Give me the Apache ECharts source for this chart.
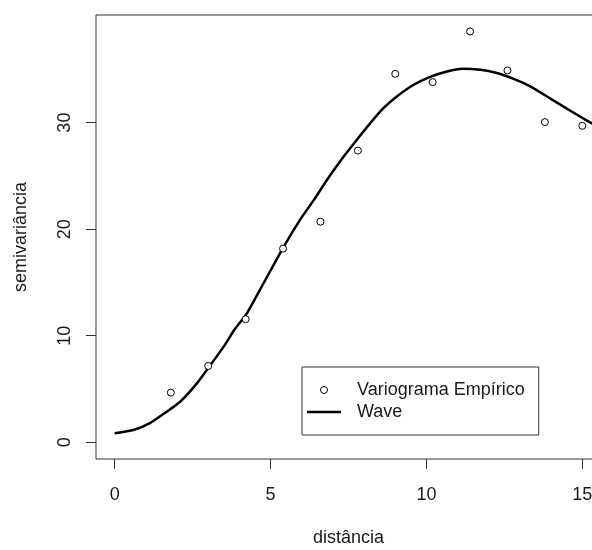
<!DOCTYPE html>
<html>
<head>
<meta charset="utf-8">
<title>Semivariograma</title>
<script src="https://cdn.jsdelivr.net/npm/echarts@6/dist/echarts.min.js"></script>
<style>
  html, body { margin: 0; padding: 0; background: #fff; }
  #chart { width: 592px; height: 550px; }
</style>
</head>
<body>
<div id="chart"></div>
<script>
// Empirical semivariogram (lag distance, semivariance)
const lagDist = [1.8, 3.0, 4.2, 5.4, 6.6, 7.8, 9.0, 10.2, 11.4, 12.6, 13.8, 15.0];
const semivar = [4.66, 7.16, 11.55, 18.17, 20.7, 27.38, 34.58, 33.8, 38.55, 34.9, 30.05, 29.7];

// Fitted wave model, sampled along distance
const waveDist = [0.0, 0.6, 1.13, 1.67, 2.1, 2.63, 3.06, 3.49, 3.85, 4.24, 4.77, 5.41, 5.95, 6.38,
  6.85, 7.34, 7.77, 8.2, 8.62, 9.05, 9.59, 10.12, 10.66, 11.15, 11.73, 12.26, 12.8, 13.33,
  13.87, 14.4, 14.94, 15.32];
const waveVal = [0.85, 1.15, 1.8, 2.87, 3.8, 5.5, 7.2, 8.95, 10.6, 12.1, 14.9, 18.3, 20.9, 22.7,
  24.8, 26.8, 28.4, 29.95, 31.35, 32.45, 33.55, 34.3, 34.8, 35.05, 34.96, 34.65, 34.1, 33.4,
  32.45, 31.5, 30.55, 29.9];

const xTicks = [0, 5, 10, 15];
const yTicks = [0, 10, 20, 30];

const FONT = "'Liberation Sans', Arial, sans-serif";
const INK = '#1a1a1a';
const AXIS = '#333';

// thin horizontal bar used as the line key in the legend
const LINE_KEY = 'path://M0,0 L34,0 L34,2.5 L0,2.5 Z';

const chart = echarts.init(document.getElementById('chart'), null, { renderer: 'canvas' });

chart.setOption({
  backgroundColor: '#fff',
  animation: false,
  textStyle: { fontFamily: FONT },
  grid: {
    left: 96, top: 15, width: 505, height: 444,
    show: true, borderColor: AXIS, borderWidth: 1,
    outerBoundsMode: 'none', containLabel: false
  },
  xAxis: {
    type: 'value', min: -0.6, max: 15.6,
    name: 'distância', nameLocation: 'middle', nameGap: 70,
    nameTextStyle: { fontSize: 18, color: INK, fontFamily: FONT },
    axisLine: { show: false, onZero: false },
    splitLine: { show: false },
    axisTick: { show: true, customValues: xTicks, length: 10, lineStyle: { color: AXIS } },
    axisLabel: { customValues: xTicks, margin: 27, fontSize: 18, color: INK, fontFamily: FONT }
  },
  yAxis: {
    type: 'value', min: -1.57, max: 40.1,
    name: 'semivariância', nameLocation: 'middle', nameGap: 66,
    nameTextStyle: { fontSize: 18, color: INK, fontFamily: FONT },
    axisLine: { show: false, onZero: false },
    splitLine: { show: false },
    axisTick: { show: true, customValues: yTicks, length: 10, lineStyle: { color: AXIS } },
    axisLabel: { customValues: yTicks, rotate: 90, margin: 22, fontSize: 18, color: INK, fontFamily: FONT }
  },
  legend: {
    orient: 'vertical',
    left: 302, top: 367,
    padding: [14, 14, 14, 5],
    itemGap: 4,
    itemWidth: 34, itemHeight: 7,
    borderColor: AXIS, borderWidth: 1,
    backgroundColor: '#fff',
    textStyle: { fontSize: 18, color: INK, fontFamily: FONT, padding: [0, 0, 0, 11] },
    data: [
      { name: 'Variograma Empírico', itemStyle: { color: '#fff', borderColor: '#000', borderWidth: 1 } },
      { name: 'Wave', icon: LINE_KEY, itemStyle: { color: '#000', borderWidth: 0 } }
    ]
  },
  series: [
    {
      name: 'Wave',
      type: 'line',
      data: waveDist.map((d, i) => [d, waveVal[i]]),
      symbol: 'none',
      smooth: 0.2,
      lineStyle: { color: '#000', width: 2.5 },
      itemStyle: { color: '#000' },
      z: 2
    },
    {
      name: 'Variograma Empírico',
      type: 'scatter',
      data: lagDist.map((d, i) => [d, semivar[i]]),
      symbol: 'circle',
      symbolSize: 7,
      itemStyle: { color: '#fff', borderColor: '#000', borderWidth: 1, opacity: 1 },
      z: 3
    }
  ]
});
</script>
</body>
</html>
